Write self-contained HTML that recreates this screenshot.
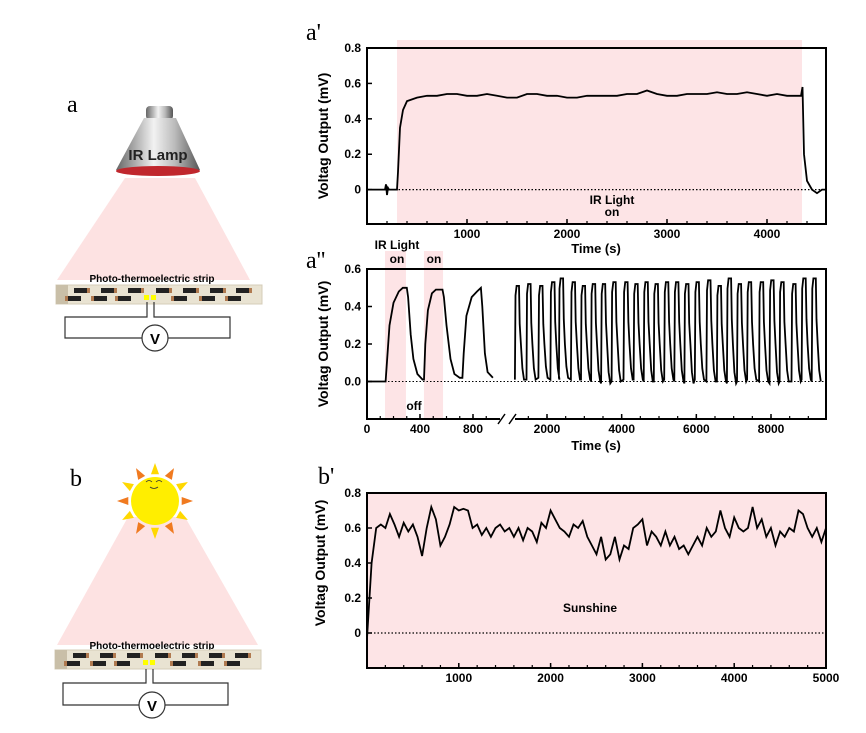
<!DOCTYPE html>
<html><head><meta charset="utf-8"><style>
body{margin:0;background:#fff;}
svg{display:block;font-family:"Liberation Sans",sans-serif;}
.tk{font-size:12px;font-weight:bold;}
.ttl{font-size:13px;font-weight:bold;}
.yt{font-size:14px;font-weight:bold;}
.pl{font-family:"Liberation Serif",serif;font-size:24px;}
</style></head><body>
<svg id="fig" width="866" height="733" viewBox="0 0 866 733">
<defs>
<linearGradient id="lampg" x1="0" x2="1"><stop offset="0" stop-color="#666"/><stop offset="0.45" stop-color="#f2f2f2"/><stop offset="0.7" stop-color="#bbb"/><stop offset="1" stop-color="#555"/></linearGradient>
</defs>
<g>
<text class="pl" x="67" y="112">a</text>
<polygon points="125,178 195,178 250,280 57,280" fill="#fde2e2"/>
<rect x="146" y="106" width="27" height="14" rx="4" fill="url(#lampg)"/>
<polygon points="144,118 176,118 200,170 116,170" fill="url(#lampg)"/>
<ellipse cx="158" cy="171" rx="42" ry="5" fill="#c0272d"/>
<text x="158" y="160" text-anchor="middle" font-size="15" font-weight="bold" fill="#222">IR Lamp</text>
<text x="152" y="282" text-anchor="middle" font-size="10" font-weight="bold">Photo-thermoelectric strip</text>
<g id="stripA"></g>
<g fill="none" stroke="#333" stroke-width="1.2">
<polyline points="147,302 147,317 65,317 65,338 142,338"/>
<polyline points="154,302 154,317 230,317 230,338 168,338"/>
<circle cx="155" cy="338" r="13" fill="#fff"/>
</g>
<text x="155" y="344" text-anchor="middle" font-size="15" font-weight="bold">V</text>
</g>
<g>
<text class="pl" x="70" y="486">b</text>
<polygon points="128,517 185,517 258,645 57,645" fill="#fde2e2"/>
<g id="sunRays"></g>
<circle cx="155" cy="501" r="24" fill="#ffee00"/>
<path d="M146,482 q3,-3 6,0 M156,482 q3,-3 6,0 M150,487 q4,3 8,0" fill="none" stroke="#333" stroke-width="0.8"/>
<text x="152" y="649" text-anchor="middle" font-size="10" font-weight="bold">Photo-thermoelectric strip</text>
<g id="stripB"></g>
<g fill="none" stroke="#333" stroke-width="1.2">
<polyline points="146,669 146,683 63,683 63,705 139,705"/>
<polyline points="153,669 153,683 228,683 228,705 165,705"/>
<circle cx="152" cy="705" r="13" fill="#fff"/>
</g>
<text x="152" y="711" text-anchor="middle" font-size="15" font-weight="bold">V</text>
</g>
<g id="charts"></g>
</svg>
<script>
// ---- data: chart a' ----
const a1Times=[0,100,180,190,200,210,220,300,310,330,360,400,500,600,700,800,900,1000,1100,1200,1300,1400,1500,1600,1700,1800,1900,2000,2100,2200,2300,2400,2500,2600,2700,2800,2900,3000,3100,3200,3300,3400,3500,3600,3700,3800,3900,4000,4100,4200,4300,4340,4355,4370,4400,4450,4500,4550,4590];
const a1Values=[0,0,0,0.03,-0.03,0.01,0,0,0.1,0.35,0.45,0.5,0.52,0.53,0.53,0.54,0.54,0.53,0.53,0.54,0.53,0.52,0.52,0.54,0.54,0.53,0.53,0.52,0.52,0.53,0.53,0.53,0.53,0.54,0.54,0.56,0.54,0.53,0.53,0.54,0.54,0.54,0.55,0.54,0.54,0.55,0.54,0.53,0.54,0.53,0.53,0.53,0.58,0.2,0.05,0,-0.02,0,0];
const a1XTicks=[1000,2000,3000,4000];
const a1YTicks=[0,0.2,0.4,0.6,0.8];
const a1YLabels=["0","0.2","0.4","0.6","0.8"];
// ---- data: chart a'' ----
const a2Seg1Times=[0,140,150,170,200,240,270,300,310,330,350,380,420,430,440,460,490,520,570,580,600,630,660,700,720,730,750,790,830,860,870,890,910,950];
const a2Seg1Values=[0,0,0.1,0.3,0.42,0.48,0.5,0.5,0.45,0.25,0.12,0.04,0.01,0.01,0.2,0.38,0.47,0.49,0.49,0.45,0.3,0.12,0.04,0.02,0.02,0.15,0.35,0.45,0.48,0.5,0.4,0.15,0.05,0.02];
const a2PulseOnsets=[1140,1450,1770,2090,2320,2640,2910,3180,3450,3730,4050,4320,4590,4860,5140,5410,5680,5960,6270,6550,6820,7090,7360,7680,7960,8230,8550,8820,9090];
const a2PulsePeaks=[0.51,0.52,0.51,0.53,0.55,0.53,0.51,0.52,0.52,0.53,0.53,0.52,0.53,0.52,0.53,0.53,0.52,0.53,0.54,0.51,0.55,0.52,0.53,0.53,0.54,0.53,0.52,0.55,0.55];
const a2PulseTroughs=[0.01,0.01,0.02,0.01,0.02,0.01,0.01,0.0,-0.01,0.0,0.01,0.01,0.0,0.0,0.01,0.0,-0.01,0.01,0.0,0.0,-0.01,0.0,0.01,0.0,-0.01,0.0,0.0,0.01,0.0];
const a2Seg1Ticks=[0,400,800];
const a2Seg2Ticks=[2000,4000,6000,8000];
const a2YTicks=[0,0.2,0.4,0.6];
const a2YLabels=["0.0","0.2","0.4","0.6"];
// ---- data: chart b' ----
const b1Times=[];for(let t=0;t<=5000;t+=50)b1Times.push(t);
const b1Values=[-0.03,0.4,0.6,0.62,0.6,0.68,0.62,0.55,0.63,0.58,0.62,0.55,0.44,0.6,0.72,0.65,0.5,0.55,0.62,0.72,0.7,0.71,0.7,0.6,0.62,0.56,0.6,0.55,0.6,0.62,0.58,0.6,0.55,0.6,0.53,0.6,0.58,0.52,0.63,0.6,0.7,0.65,0.6,0.58,0.55,0.62,0.6,0.64,0.55,0.5,0.45,0.55,0.42,0.45,0.55,0.42,0.5,0.48,0.6,0.62,0.65,0.5,0.58,0.55,0.5,0.58,0.5,0.55,0.48,0.5,0.45,0.5,0.55,0.5,0.6,0.55,0.58,0.7,0.6,0.55,0.66,0.6,0.58,0.6,0.72,0.6,0.65,0.55,0.6,0.5,0.58,0.55,0.6,0.58,0.7,0.68,0.6,0.55,0.6,0.52,0.6];
const b1XTicks=[1000,2000,3000,4000,5000];
const b1YTicks=[0,0.2,0.4,0.6,0.8];
const b1YLabels=["0","0.2","0.4","0.6","0.8"];

const NS="http://www.w3.org/2000/svg";
const root=document.getElementById('charts');
function mk(tag,attrs,parent){const e=document.createElementNS(NS,tag);for(const k in attrs)e.setAttribute(k,attrs[k]);(parent||root).appendChild(e);return e;}
function lin(d0,d1,r0,r1){return v=>r0+(v-d0)/(d1-d0)*(r1-r0);}
function axesBox(g,L,T,R,B){const r=mk('rect',{x:L,y:T,width:R-L,height:B-T,fill:'none',stroke:'#000','stroke-width':2},g);}
function yAxis(g,y,L,ticks,labels){ticks.forEach((v,i)=>{mk('line',{x1:L,x2:L+5,y1:y(v),y2:y(v),stroke:'#000','stroke-width':1.5},g);const t=mk('text',{x:L-6,y:y(v)+4,'text-anchor':'end',class:'tk'},g);t.textContent=labels[i];});}
function xTicks(g,x,B,majors,minorStep,lo,hi){for(let v=Math.ceil(lo/minorStep)*minorStep;v<=hi;v+=minorStep){mk('line',{x1:x(v),x2:x(v),y1:B,y2:B-3,stroke:'#000','stroke-width':1.2},g);}
majors.forEach(v=>{mk('line',{x1:x(v),x2:x(v),y1:B,y2:B-5,stroke:'#000','stroke-width':1.5},g);const t=mk('text',{x:x(v),y:B+14,'text-anchor':'middle',class:'tk'},g);t.textContent=String(v);});}
function txt(g,x,y,s,cls,name,extra){const t=mk('text',Object.assign({x:x,y:y,class:cls||''},extra||{}),g);t.textContent=s;return t;}
function ytitle(g,cx,cy){txt(g,0,0,'Voltag Output (mV)','yt','y-axis-title',{'text-anchor':'middle',transform:`translate(${cx},${cy}) rotate(-90)`});}
function pathFrom(ts,vs,x,y){return ts.map((t,i)=>(i?'L':'M')+x(t).toFixed(1)+','+y(vs[i]).toFixed(1)).join('');}

// chart a'
{const g=mk('g',{});
const L=367,T=48,R=826,B=224;const x=lin(0,4590,L,R),y=lin(-0.194,0.8,B,T);
const bg=mk('rect',{x:x(300),y:T-8,width:x(4350)-x(300),height:B-T+8,fill:'#fde4e6'},g);
mk('line',{x1:L,x2:R,y1:y(0),y2:y(0),stroke:'#000','stroke-dasharray':'1.5,2','stroke-width':1.2},g);
const p=mk('path',{d:pathFrom(a1Times,a1Values,x,y),fill:'none',stroke:'#000','stroke-width':1.8},g);
axesBox(g,L,T,R,B);yAxis(g,y,L,a1YTicks,a1YLabels);xTicks(g,x,B,a1XTicks,200,200,4590);
txt(g,596,253,'Time (s)','ttl','x-axis-title',{'text-anchor':'middle','font-size':'14'});
ytitle(g,328,136);
txt(g,612,204,'IR Light','tk','ir-light-label',{'text-anchor':'middle','font-size':'11'});
txt(g,612,216,'on','tk','on-label',{'text-anchor':'middle','font-size':'11'});
txt(g,306,40,"a'",'pl','panel-label-a-prime');}

// chart a''
{const g=mk('g',{});
const L=367,T=269,R=826,B=419;const x1=lin(0,800,367,473),x2=lin(2000,8000,547,771),y=lin(-0.2,0.6,B,T);
[[136,294],[430,574]].forEach(b=>{const r=mk('rect',{x:x1(b[0]),y:251,width:x1(b[1])-x1(b[0]),height:B-251,fill:'#fde4e6'},g);});
mk('line',{x1:L,x2:R,y1:y(0),y2:y(0),stroke:'#000','stroke-dasharray':'1.5,2','stroke-width':1},g);
const p1=mk('path',{d:pathFrom(a2Seg1Times,a2Seg1Values,x1,y),fill:'none',stroke:'#000','stroke-width':1.8},g);
let ts=[],vs=[];a2PulseOnsets.forEach((o,i)=>{const pk=a2PulsePeaks[i],tr=a2PulseTroughs[i];ts.push(o,o+15,o+45,o+110,o+130,o+160,o+200,o+245);vs.push(tr,pk*0.9,pk,pk,pk*0.6,0.2,0.06+tr,tr);});
const p2=mk('path',{d:pathFrom(ts,vs,x2,y),fill:'none',stroke:'#000','stroke-width':1.8},g);
axesBox(g,L,T,R,B);
const br=mk('rect',{x:500,y:B-3,width:15,height:6,fill:'#fff'},g);
mk('path',{d:'M498,424 L505,414 M509,424 L516,414',stroke:'#000','stroke-width':1.5},g);
yAxis(g,y,L,a2YTicks,a2YLabels);xTicks(g,x1,B,a2Seg1Ticks,100,0,950);xTicks(g,x2,B,a2Seg2Ticks,500,1500,9400);
txt(g,596,450,'Time (s)','ttl','x-axis-title',{'text-anchor':'middle','font-size':'14'});
ytitle(g,328,344);
txt(g,397,249,'IR Light','tk','ir-light-label',{'text-anchor':'middle','font-size':'11'});
txt(g,397,263,'on','tk','on-label',{'text-anchor':'middle','font-size':'11'});
txt(g,434,263,'on','tk','on-label-2',{'text-anchor':'middle','font-size':'11'});
txt(g,414,410,'off','tk','off-label',{'text-anchor':'middle','font-size':'11'});
txt(g,306,268,"a''",'pl','panel-label-a-double-prime');}

// chart b'
{const g=mk('g',{});
const L=367,T=493,R=826,B=668;const x=lin(0,5000,L,R),y=lin(-0.2,0.8,B,T);
const bg=mk('rect',{x:L,y:T,width:R-L,height:B-T,fill:'#fde4e6'},g);
mk('line',{x1:L,x2:R,y1:y(0),y2:y(0),stroke:'#000','stroke-dasharray':'1.5,2','stroke-width':1.2},g);
const p=mk('path',{d:pathFrom(b1Times,b1Values,x,y),fill:'none',stroke:'#000','stroke-width':1.8},g);
axesBox(g,L,T,R,B);yAxis(g,y,L,b1YTicks,b1YLabels);xTicks(g,x,B,b1XTicks,200,200,5000);
txt(g,596,744,'Time (s)','ttl','x-axis-title',{'text-anchor':'middle','font-size':'14'});
ytitle(g,325,563);
txt(g,590,612,'Sunshine','tk','sunshine-label',{'text-anchor':'middle','font-size':'11'});
txt(g,318,484,"b'",'pl','panel-label-b-prime');}

function strip(id,x0,y0){const g=document.getElementById(id);
mk('rect',{x:x0,y:y0,width:206,height:19,fill:'#e9e3d2',stroke:'#d5cdb8'},g);
mk('rect',{x:x0,y:y0,width:12,height:19,fill:'#c9bfa8'},g);
[18,45,72,100,127,154,180].forEach(dx=>{mk('rect',{x:x0+dx,y:y0+3,width:13,height:5,fill:'#222'},g);mk('rect',{x:x0+dx+13,y:y0+3,width:3,height:5,fill:'#b07a50'},g);});
[12,38,62,118,146,172].forEach(dx=>{mk('rect',{x:x0+dx,y:y0+11,width:13,height:5,fill:'#222'},g);mk('rect',{x:x0+dx-3,y:y0+11,width:3,height:5,fill:'#b07a50'},g);});
mk('rect',{x:x0+88,y:y0+10,width:5,height:5,fill:'#ff0'},g);mk('rect',{x:x0+95,y:y0+10,width:5,height:5,fill:'#ff0'},g);}
strip('stripA',56,285);strip('stripB',55,650);
{const g=document.getElementById('sunRays');for(let i=0;i<12;i++){const a=i*Math.PI/6,c=i%2?'#ffd800':'#f07a20';const cx=155,cy=501;
const tip=[cx+38*Math.cos(a),cy+38*Math.sin(a)],b1=[cx+27*Math.cos(a-0.15),cy+27*Math.sin(a-0.15)],b2=[cx+27*Math.cos(a+0.15),cy+27*Math.sin(a+0.15)];
mk('polygon',{points:[tip,b1,b2].map(p=>p.join(',')).join(' '),fill:c},g);}}
</script>
</body></html>
